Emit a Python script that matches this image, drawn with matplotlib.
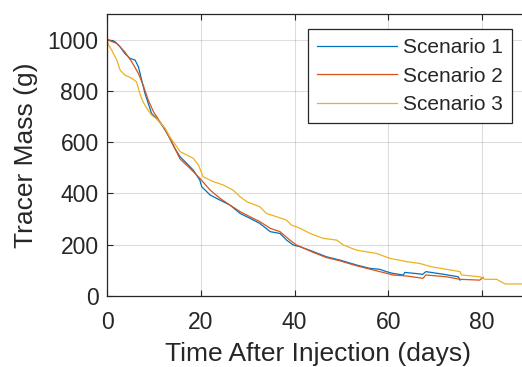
import numpy as np
import matplotlib.pyplot as plt

plt.rcParams['font.family'] = ['Liberation Sans', 'DejaVu Sans']

# Scenario 1 (blue)
t1 = [0, 0.6, 1.7, 2.8, 3.8, 4.9, 6.0, 6.7, 7.4, 8.1, 8.8, 9.5, 10.6, 11.7, 12.4,
      13.4, 14.5, 15.6, 17.0, 18.4, 19.8, 20.2, 22.0, 24.1, 26.2, 28.4, 30.5, 32.6,
      34.8, 36.9, 38.3, 39.7, 41.2, 44.0, 46.8, 49.7, 53.2, 56.0, 58.2, 59.6, 61.0,
      63.2, 63.5, 66.8, 67.3, 68.0, 71.7, 74.9, 75.3]
m1 = [1000, 998, 992, 972, 946, 927, 920, 894, 842, 790, 751, 712, 693, 667, 647,
      615, 575, 543, 517, 491, 452, 426, 394, 374, 355, 322, 303, 283,
      251, 244, 218, 199, 192, 173, 153, 140, 121, 108, 104, 95, 88,
      82, 92, 86, 84, 95, 85, 75, 62]

# Scenario 2 (red)
t2 = [0, 0.3, 2.1, 3.8, 5.3, 6.7, 7.7, 8.8, 9.9, 11.3, 12.7, 15.6, 17.7, 19.8,
      22.0, 24.1, 26.2, 28.4, 30.5, 32.6, 34.8, 36.9, 39.0, 40.4, 44.0, 46.8,
      49.7, 53.2, 56.0, 58.2, 61.0, 63.9, 67.4, 68.0, 72.4, 75.3, 79.5, 80.2]
m2 = [1000, 998, 985, 952, 913, 868, 823, 764, 719, 680, 641, 534, 498, 459,
      413, 381, 355, 329, 309, 290, 264, 251, 218, 199, 170, 150,
      137, 118, 105, 95, 82, 78, 69, 82, 75, 65, 62, 73]

# Scenario 3 (yellow)
t3 = [0, 0.3, 1.0, 2.1, 2.8, 3.8, 5.3, 6.3, 7.0, 7.7, 8.5, 9.5, 10.9, 12.4, 13.4,
      15.6, 17.0, 18.4, 19.5, 20.5, 22.7, 24.8, 26.9, 28.4, 29.8, 32.6, 34.0,
      36.2, 38.3, 39.3, 41.2, 43.3, 46.1, 49.0, 50.4, 53.2, 57.5, 60.3, 63.9,
      66.7, 69.2, 75.3, 75.6, 79.5, 80.6, 83.1, 84.9, 90]
m3 = [1000, 980, 959, 920, 881, 862, 849, 835, 790, 757, 732, 706, 686, 654, 621,
      563, 550, 537, 511, 465, 446, 433, 413, 387, 368, 348, 322,
      309, 296, 277, 264, 244, 225, 218, 199, 179, 166, 147, 134,
      127, 114, 95, 82, 75, 65, 65, 47, 47]

labels = ['Scenario 1', 'Scenario 2', 'Scenario 3']
colors = ['#0072BD', '#D95319', '#EDB120']
dark = '#262626'

fig = plt.figure(figsize=(5.22, 3.67), dpi=100)
ax = fig.add_axes([107 / 522, 71 / 367, 422 / 522, 282 / 367])

for t, m, c, lab in zip([t1, t2, t3], [m1, m2, m3], colors, labels):
    ax.plot(t, m, color=c, lw=0.9, label=lab)

ax.set_xlim(0, 90)
ax.set_ylim(0, 1100)
ax.set_xticks([0, 20, 40, 60, 80])
ax.set_yticks([0, 200, 400, 600, 800, 1000])
ax.grid(True, color=dark, alpha=0.15, lw=0.8)
ax.tick_params(direction='in', length=4, width=0.8, colors=dark, labelsize=16.5,
               top=True, right=True)
ax.tick_params(axis='x', pad=10.5)
ax.tick_params(axis='y', pad=6)
for s in ax.spines.values():
    s.set_color(dark)
    s.set_linewidth(0.9)

ax.set_xlabel('Time After Injection (days)', fontsize=19, color=dark, labelpad=6)
ax.set_ylabel('Tracer Mass (g)', fontsize=19, color=dark, labelpad=7)

leg = ax.legend(loc='upper right', bbox_to_anchor=(0.96, 0.947), fontsize=15,
                fancybox=False, framealpha=1, edgecolor=dark, handlelength=3.8,
                labelspacing=0.45, borderpad=0.45, handletextpad=0.3,
                borderaxespad=0)
leg.get_frame().set_linewidth(0.9)
for txt in leg.get_texts():
    txt.set_color(dark)

fig.savefig('out.png', dpi=100)
